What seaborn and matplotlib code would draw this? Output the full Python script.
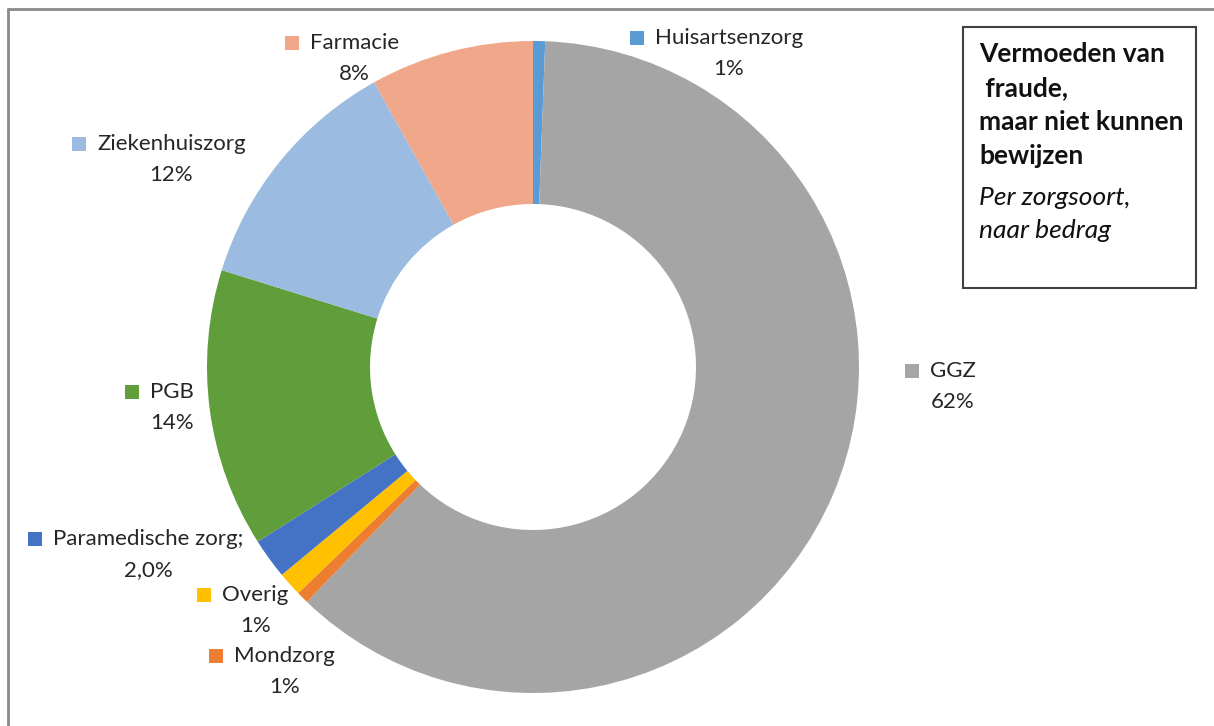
import matplotlib
matplotlib.use("Agg")
import matplotlib.pyplot as plt
import seaborn as sns
from matplotlib.patches import Rectangle

sns.set_theme(style="white")
plt.rcParams["font.family"] = ["Lato", "DejaVu Sans"]

# Share of suspected-but-unproven fraud per care type (percent of amount)
categories = ["Huisartsenzorg", "GGZ", "Mondzorg", "Overig",
              "Paramedische zorg;", "PGB", "Ziekenhuiszorg", "Farmacie"]
shares = [0.6, 61.6, 0.6, 1.2, 2.0, 13.8, 12.1, 8.1]
decimals = [0, 0, 0, 0, 1, 0, 0, 0]
colors = sns.color_palette(["#5B9BD5", "#A5A5A5", "#ED7D31", "#FFC000",
                            "#4472C4", "#5F9E3A", "#9BBBE0", "#F1A88A"])

# Label anchor: left edge of the category name and its vertical centre (px)
label_pos = {
    "Huisartsenzorg": (655, 37),
    "GGZ": (930, 370),
    "Mondzorg": (234, 655),
    "Overig": (222, 594),
    "Paramedische zorg;": (53, 538),
    "PGB": (150, 391),
    "Ziekenhuiszorg": (97, 143),
    "Farmacie": (310, 42),
}

W, H = 1214, 726
fig = plt.figure(figsize=(W / 100, H / 100), dpi=100)
ax = fig.add_axes([0, 0, 1, 1])

ax.pie(shares, colors=colors, center=(533, 367), radius=326,
       startangle=-90, counterclock=True,
       wedgeprops=dict(width=163, linewidth=0))
ax.set_xlim(0, W)
ax.set_ylim(H, 0)
ax.set_aspect("equal")
ax.axis("off")


def fmt(v, d):
    s = f"{v:.{d}f}%"
    return s.replace(".", ",")


for cat, val, d, col in zip(categories, shares, decimals, colors):
    x, y = label_pos[cat]
    ax.text(x, y - 9, f"{cat}\n{fmt(val, d)}", ha="left", va="top",
            multialignment="center", fontsize=16, color="#262626",
            linespacing=1.7)
    ax.scatter([x - 18], [y + 1], marker="s", s=100, color=col, linewidths=0)

# Title box
ax.add_patch(Rectangle((963, 27), 233, 261, fill=False,
                       edgecolor="#404040", linewidth=1.5))
ax.text(979, 42, "Vermoeden van\n fraude,\nmaar niet kunnen\nbewijzen",
        ha="left", va="top", fontsize=19, fontweight="bold",
        color="#111111", linespacing=1.5)
ax.text(979, 186, "Per zorgsoort,\nnaar bedrag", ha="left", va="top",
        fontsize=19, fontstyle="italic", color="#111111", linespacing=1.5)

# Outer frame (top and left edge)
ax.plot([8, W], [9, 9], color="#8a8a8a", linewidth=2, clip_on=False)
ax.plot([8, 8], [9, H], color="#8a8a8a", linewidth=2, clip_on=False)

fig.savefig("out.png", dpi=100)
